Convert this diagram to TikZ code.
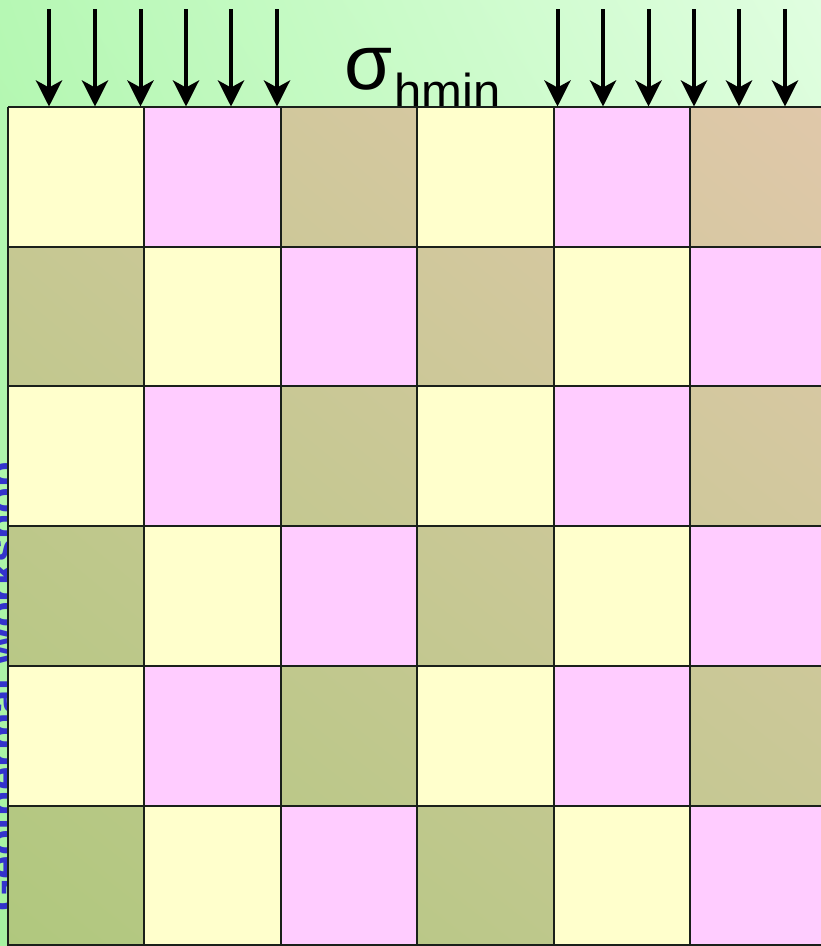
\documentclass[tikz,border=0pt]{standalone}
\usepackage{fontspec}
\setmainfont{Liberation Sans}
\usetikzlibrary{arrows.meta,shadings}
\definecolor{bgLL}{HTML}{A6F2A0}
\definecolor{bgUL}{HTML}{B6F8B4}
\definecolor{bgLR}{HTML}{C6FAC4}
\definecolor{bgUR}{HTML}{E0FEE0}
\definecolor{olLL}{HTML}{B0C87E}
\definecolor{olUL}{HTML}{CAC896}
\definecolor{olLR}{HTML}{C4C892}
\definecolor{olUR}{HTML}{E0C8AA}
\definecolor{cellY}{HTML}{FFFFCC}
\definecolor{cellP}{HTML}{FFCCFF}
\definecolor{wsblue}{HTML}{3333CC}
\definecolor{gridcol}{HTML}{1A201A}
\tikzset{
  arr/.style={line width=4pt, black, -{Stealth[length=26pt,width=26pt,inset=7pt]}},
  gridline/.style={line width=2pt, draw=gridcol},
  lab/.style={anchor=base west, inner sep=0pt, text=black}
}
\begin{document}
\begin{tikzpicture}[x=1pt,y=-1pt]
\useasboundingbox (0,0) rectangle (821,946);
% background
\shade[lower left=bgLL, upper right=bgUR, upper left=bgUL, lower right=bgLR] (0,946) rectangle (821,0);
% vertical title (mostly hidden behind the grid)
\node[rotate=90, anchor=base west, inner sep=0pt, text=wsblue,
      font=\bfseries\fontsize{42}{42}\selectfont] (ws) at (17,912) {Geothermal Workshop};
% sigma label
\node[lab, font=\fontsize{78}{78}\selectfont] (sig) at (344,89) {σ};
\node[lab, font=\fontsize{49}{49}\selectfont] (sub) at (394,108) {hmin};
% grid: olive shading underneath, then yellow / pink cells
\shade[lower left=olLL, upper right=olUR, upper left=olUL, lower right=olLR] (8,946) rectangle (826.4,107);
\foreach \r in {0,...,5}{
  \foreach \c in {0,...,5}{
    \pgfmathtruncatemacro{\t}{mod(\c + 2*mod(\r,2),3)}
    \pgfmathsetmacro{\xa}{8+136.4*\c}
    \pgfmathsetmacro{\ya}{107+139.7*\r}
    \ifnum\t=0
      \fill[cellY] (\xa,\ya) rectangle ++(136.4,139.7);
    \fi
    \ifnum\t=1
      \fill[cellP] (\xa,\ya) rectangle ++(136.4,139.7);
    \fi
  }
}
\foreach \c in {0,...,6}{
  \draw[gridline] ({8+136.4*\c},107) -- ({8+136.4*\c},947);
}
\foreach \r in {0,...,6}{
  \draw[gridline] (8,{107+139.7*\r}) -- (830,{107+139.7*\r});
}
% arrows
\foreach \x in {49,95,140.5,186,231,277,557.5,603,648.5,694,739,785}{
  \draw[arr] (\x,9) -- (\x,106.5);
}
\end{tikzpicture}
\end{document}
